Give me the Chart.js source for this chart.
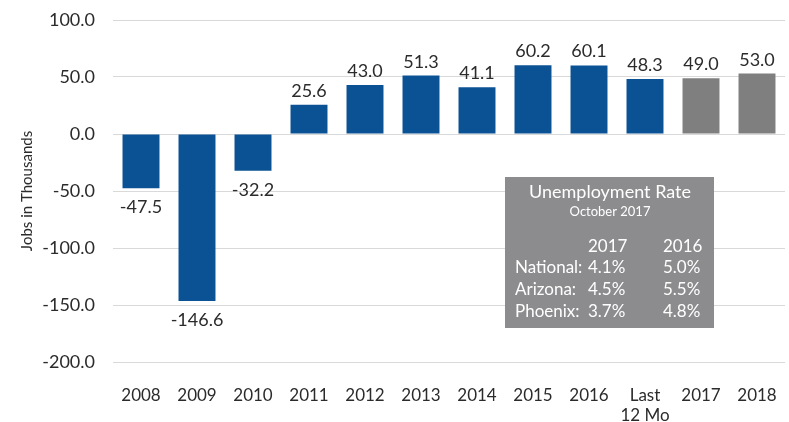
<!DOCTYPE html>
<html><head><meta charset="utf-8">
<script src="https://cdn.jsdelivr.net/npm/chart.js@4/dist/chart.umd.min.js"></script>
<style>
html,body{margin:0;padding:0;background:#fff;}
</style></head>
<body><canvas id="c" width="789" height="422"></canvas>
<script>
const categories = ["2008","2009","2010","2011","2012","2013","2014","2015","2016",["Last","12 Mo"],"2017","2018"];
const jobs = [-47.5,-146.6,-32.2,25.6,43.0,51.3,41.1,60.2,60.1,48.3,49.0,53.0];
const isForecast = [false,false,false,false,false,false,false,false,false,false,true,true];
const yTicks = [-200,-150,-100,-50,0,50,100];
const boxTitle = "Unemployment Rate";
const boxSub = "October 2017";
const boxYears = ["2017","2016"];
const boxRows = ["National:","Arizona:","Phoenix:"];
const rate2017 = ["4.1%","4.5%","3.7%"];
const rate2016 = ["5.0%","5.5%","4.8%"];

const FONT = '"Lato", sans-serif';
const TXT = '#2b2b2b';

const labelPlugin = {
  id:'vals',
  afterDatasetsDraw(chart){
    const ctx = chart.ctx;
    const meta = chart.getDatasetMeta(0);
    ctx.save();
    ctx.font = '18px ' + FONT;
    ctx.fillStyle = TXT;
    ctx.textAlign = 'center';
    ctx.textBaseline = 'alphabetic';
    meta.data.forEach((bar,i)=>{
      const v = jobs[i];
      if (v >= 0) ctx.fillText(v.toFixed(1), bar.x, bar.y-8);
      else ctx.fillText(v.toFixed(1), bar.x, bar.y+25);
    });
    ctx.restore();
  }
};

const boxPlugin = {
  id:'box',
  afterDraw(chart){
    const ctx = chart.ctx;
    ctx.save();
    ctx.fillStyle = '#8c8c8e';
    ctx.fillRect(505,177,209,151);
    ctx.fillStyle = '#ffffff';
    ctx.textBaseline = 'alphabetic';
    ctx.textAlign = 'center';
    ctx.font = '18px ' + FONT;
    ctx.fillText(boxTitle, 610, 198);
    ctx.font = '13px ' + FONT;
    ctx.fillText(boxSub, 610, 216);
    ctx.textAlign = 'left';
    ctx.font = '17px ' + FONT;
    ctx.fillText(boxYears[0], 588, 252);
    ctx.fillText(boxYears[1], 663, 252);
    boxRows.forEach((r,i)=>{
      const y = 273 + i*22;
      ctx.fillText(r, 515, y);
      ctx.fillText(rate2017[i], 588, y);
      ctx.fillText(rate2016[i], 663, y);
    });
    ctx.restore();
  }
};

new Chart(document.getElementById('c'), {
  type:'bar',
  data:{labels:categories, datasets:[{data:jobs,
    backgroundColor: isForecast.map(f=>f?'#7f7f7f':'#0b5294'),
    categoryPercentage:0.66, barPercentage:1.0}]},
  options:{
    responsive:false, animation:false,
    layout:{padding:{top:20,right:4,left:18,bottom:0}},
    plugins:{legend:{display:false},tooltip:{enabled:false}},
    scales:{
      x:{grid:{display:false},border:{display:false},
        afterFit(s){ s.height = 60; s.paddingLeft = 0; s.paddingRight = 0; },
        ticks:{color:TXT,font:{family:FONT,size:17},maxRotation:0,autoSkip:false,padding:15}},
      y:{min:-200,max:100,
        afterBuildTicks(s){ s.ticks = yTicks.map(v=>({value:v})); },
        afterFit(s){ s.width = 95; s.paddingTop = 0; s.paddingBottom = 0; },
        grid:{color:'#d9d9d9',drawTicks:false},border:{display:false},
        ticks:{color:TXT,font:{family:FONT,size:18},padding:18,callback:v=>v.toFixed(1)},
        title:{display:true,text:'Jobs in Thousands',color:TXT,font:{family:FONT,size:15},padding:{bottom:0,top:0}}
      }
    }
  },
  plugins:[labelPlugin, boxPlugin]
});
</script></body></html>
